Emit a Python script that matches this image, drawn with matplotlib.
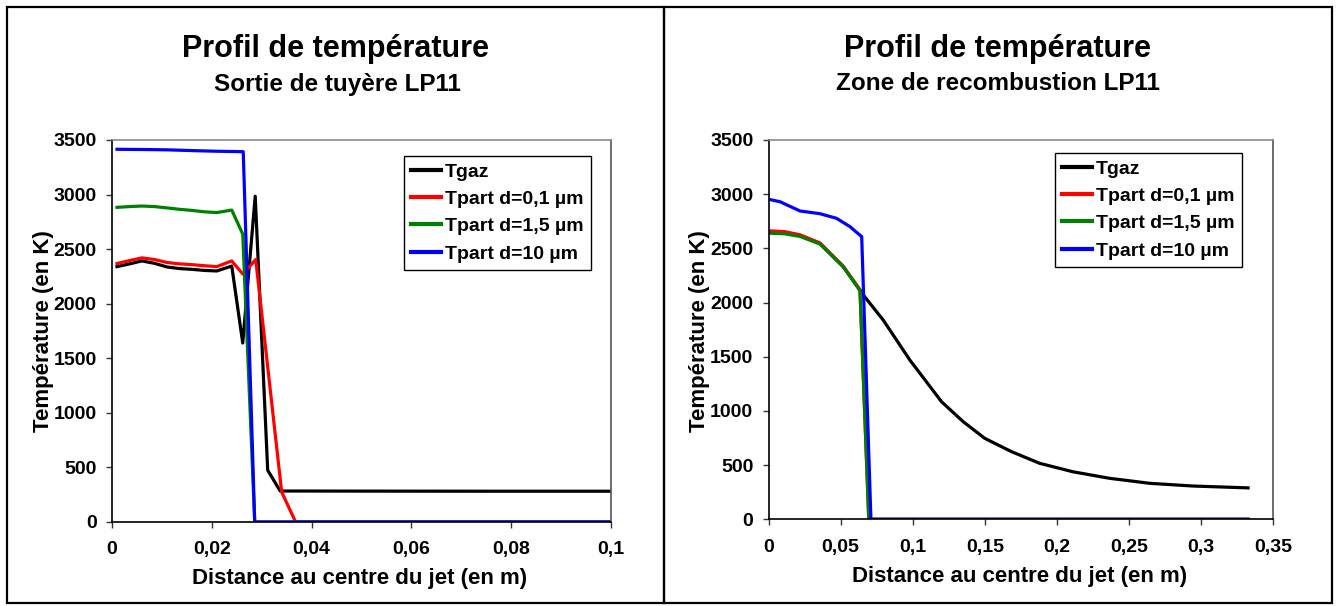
import matplotlib
matplotlib.use("Agg")
import matplotlib.pyplot as plt
from matplotlib.patches import Rectangle

plt.rcParams['font.family'] = ['Liberation Sans', 'DejaVu Sans']
plt.rcParams['font.weight'] = 'bold'

# Sortie de tuyere LP11 (left panel)
x_gaz_sortie = [0.001, 0.0035, 0.006, 0.0085, 0.011, 0.0135, 0.016, 0.0185, 0.021, 0.024,
                0.0262, 0.0287, 0.0312, 0.0337, 0.05, 0.075, 0.1]
t_gaz_sortie = [2340, 2365, 2392, 2370, 2337, 2322, 2315, 2305, 2300, 2345,
                1640, 2985, 475, 284, 283, 282, 282]

x_p01_sortie = [0.001, 0.0035, 0.006, 0.0085, 0.011, 0.0135, 0.016, 0.0185, 0.021, 0.024,
                0.0262, 0.0288, 0.034, 0.0368, 0.05, 0.075, 0.1]
t_p01_sortie = [2368, 2395, 2420, 2405, 2378, 2365, 2358, 2348, 2340, 2392,
                2272, 2405, 275, 0, 0, 0, 0]

x_p15_sortie = [0.001, 0.0035, 0.006, 0.0085, 0.011, 0.0135, 0.016, 0.0185, 0.021, 0.024,
                0.0262, 0.0286, 0.05, 0.075, 0.1]
t_p15_sortie = [2883, 2890, 2895, 2890, 2878, 2865, 2855, 2842, 2835, 2858,
                2638, 0, 0, 0, 0]

x_p10_sortie = [0.001, 0.006, 0.011, 0.016, 0.021, 0.0263, 0.0286, 0.05, 0.075, 0.1]
t_p10_sortie = [3415, 3413, 3410, 3403, 3397, 3393, 0, 0, 0, 0]

# Zone de recombustion LP11 (right panel)
x_gaz_recomb = [0, 0.011, 0.0218, 0.0356, 0.0518, 0.0634, 0.0657, 0.0795, 0.098, 0.120,
                0.135, 0.150, 0.1686, 0.188, 0.211, 0.2367, 0.2645, 0.2945, 0.3327]
t_gaz_recomb = [2655, 2648, 2620, 2547, 2331, 2116, 2070, 1839, 1470, 1085,
                901, 747, 624, 517, 439, 378, 332, 307, 290]

x_p01_recomb = [0, 0.011, 0.0218, 0.0356, 0.0518, 0.0634, 0.0695, 0.15, 0.25, 0.3327]
t_p01_recomb = [2662, 2655, 2625, 2550, 2335, 2118, 0, 0, 0, 0]

x_p15_recomb = [0, 0.011, 0.0218, 0.0356, 0.0518, 0.0634, 0.0695, 0.15, 0.25, 0.3327]
t_p15_recomb = [2640, 2635, 2610, 2540, 2330, 2110, 0, 0, 0, 0]

x_p10_recomb = [0, 0.008, 0.0218, 0.0356, 0.0472, 0.0565, 0.0646, 0.071, 0.15, 0.25, 0.3327]
t_p10_recomb = [2953, 2930, 2845, 2820, 2777, 2700, 2608, 0, 0, 0, 0]

series_names = ["Tgaz", "Tpart d=0,1 µm", "Tpart d=1,5 µm", "Tpart d=10 µm"]
series_colors = ["black", "#ff0000", "#008000", "#0000ff"]

y_ticks = [0, 500, 1000, 1500, 2000, 2500, 3000, 3500]
x_ticks_sortie = [0, 0.02, 0.04, 0.06, 0.08, 0.1]
x_labels_sortie = ["0", "0,02", "0,04", "0,06", "0,08", "0,1"]
x_ticks_recomb = [0, 0.05, 0.1, 0.15, 0.2, 0.25, 0.3, 0.35]
x_labels_recomb = ["0", "0,05", "0,1", "0,15", "0,2", "0,25", "0,3", "0,35"]

W, H = 1340, 606
fig = plt.figure(figsize=(W / 100, H / 100), dpi=100)
fig.patch.set_facecolor("white")


def px_axes(x0, y0, x1, y1):
    return fig.add_axes([x0 / W, 1 - y1 / H, (x1 - x0) / W, (y1 - y0) / H])


def style_axes(ax, xt, xl, xmax):
    ax.set_xlim(0, xmax)
    ax.set_ylim(0, 3500)
    ax.set_xticks(xt)
    ax.set_xticklabels(xl)
    ax.set_yticks(y_ticks)
    ax.set_yticklabels([str(v) for v in y_ticks])
    ax.tick_params(direction="out", length=4, width=1, colors="#333333",
                   labelcolor="black", labelsize=14, pad=7)
    ax.tick_params(axis="x", pad=10)
    for lab in ax.get_xticklabels() + ax.get_yticklabels():
        lab.set_fontweight("bold")
    ax.spines["left"].set_color("black")
    ax.spines["bottom"].set_color("black")
    ax.spines["top"].set_color("#8a8a8a")
    ax.spines["right"].set_color("#555555")
    for s in ax.spines.values():
        s.set_linewidth(1.2)
    ax.set_xlabel("Distance au centre du jet (en m)", fontsize=16, fontweight="bold")
    ax.set_ylabel("Température (en K)", fontsize=16, fontweight="bold")


def draw(ax, xs, ts):
    for x, t, name, c in zip(xs, ts, series_names, series_colors):
        ax.plot(x, t, color=c, lw=2.3, label=name, solid_joinstyle="round")


# left panel
ax1 = px_axes(112, 140, 611, 522)
draw(ax1, [x_gaz_sortie, x_p01_sortie, x_p15_sortie, x_p10_sortie],
     [t_gaz_sortie, t_p01_sortie, t_p15_sortie, t_p10_sortie])
style_axes(ax1, x_ticks_sortie, x_labels_sortie, 0.1)
ax1.xaxis.set_label_coords((360 - 112) / (611 - 112), -(568 - 522) / (522 - 140))
ax1.yaxis.set_label_coords(-(112 - 54) / (611 - 112), (522 - 331) / (522 - 140))

# right panel
ax2 = px_axes(768.6, 140, 1273, 519.3)
draw(ax2, [x_gaz_recomb, x_p01_recomb, x_p15_recomb, x_p10_recomb],
     [t_gaz_recomb, t_p01_recomb, t_p15_recomb, t_p10_recomb])
style_axes(ax2, x_ticks_recomb, x_labels_recomb, 0.35)
ax2.xaxis.set_label_coords((1020 - 768.6) / (1273 - 768.6), -(566 - 519.3) / (519.3 - 140))
ax2.yaxis.set_label_coords(-(768.6 - 710) / (1273 - 768.6), (519.3 - 331) / (519.3 - 140))

for ax, (lx, ly) in [(ax1, (404, 156)), (ax2, (1055, 153))]:
    leg = ax.legend(loc="upper left", bbox_to_anchor=(lx / W, 1 - ly / H),
                    bbox_transform=fig.transFigure, borderaxespad=0,
                    fancybox=False, framealpha=1, edgecolor="black",
                    prop={"size": 14, "weight": "bold"},
                    handlelength=1.55, handletextpad=0.2, borderpad=0.36,
                    labelspacing=0.5)
    leg.get_frame().set_linewidth(1.0)
    for line in leg.get_lines():
        line.set_linewidth(3)

# titles
fig.text(335 / W, 1 - 49 / H, "Profil de température", ha="center", va="center",
         fontsize=22, fontweight="bold")
fig.text(337 / W, 1 - 84 / H, "Sortie de tuyère LP11", ha="center", va="center",
         fontsize=17.5, fontweight="bold")
fig.text(998 / W, 1 - 49 / H, "Profil de température", ha="center", va="center",
         fontsize=22, fontweight="bold")
fig.text(998 / W, 1 - 84 / H, "Zone de recombustion LP11", ha="center", va="center",
         fontsize=17.5, fontweight="bold")

# panel frames
fig.add_artist(Rectangle((7 / W, 1 - 603 / H), (664 - 7) / W, (603 - 7) / H,
                         transform=fig.transFigure, fill=False, lw=1.6, ec="black"))
fig.add_artist(Rectangle((664 / W, 1 - 603 / H), (1332 - 664) / W, (603 - 7) / H,
                         transform=fig.transFigure, fill=False, lw=1.6, ec="black"))

fig.savefig("out.png", dpi=100, facecolor="white")
